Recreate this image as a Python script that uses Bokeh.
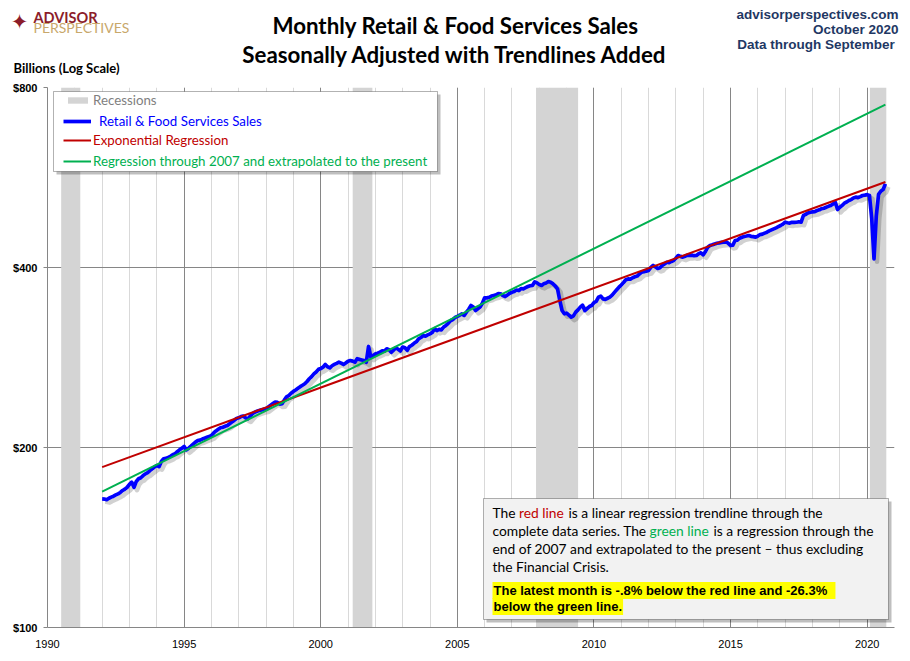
import numpy as np
import pandas as pd
from bokeh.plotting import figure
from bokeh.layouts import column, row
from bokeh.models import (ColumnDataSource, FixedTicker, NumeralTickFormatter, Label,
                          BoxAnnotation, Legend, LegendItem, Range1d)
from bokeh.embed import file_html
from bokeh.resources import INLINE

# ---------------- data (billions of dollars, monthly) ----------------
first_month = "1992-01-01"
sales = [
    164.1, 164.0, 163.6, 164.5, 165.2, 165.8, 166.6, 167.3, 168.2, 169.5, 170.4, 171.6,  # 1992
    173.5, 175.0, 171.6, 175.5, 177.3, 178.0, 179.5, 180.7, 181.5, 183.0, 184.2, 185.5,  # 1993
    186.6, 185.8, 189.5, 191.5, 191.8, 192.5, 193.3, 194.5, 195.2, 196.8, 198.2, 199.5,  # 1994
    200.8, 198.2, 199.5, 201.0, 202.6, 204.2, 205.4, 205.8, 206.6, 207.3, 208.0, 208.6,  # 1995
    209.5, 211.5, 213.2, 214.5, 215.8, 216.2, 217.0, 217.7, 219.2, 220.6, 222.0, 223.6,  # 1996
    224.2, 225.3, 225.8, 224.2, 223.3, 225.5, 227.8, 229.1, 229.9, 230.6, 231.2, 231.8,  # 1997
    232.2, 233.8, 235.4, 236.8, 238.2, 237.9, 236.4, 236.7, 240.0, 243.0, 244.3, 246.5,  # 1998
    248.2, 249.6, 251.2, 252.8, 254.2, 255.6, 257.9, 260.6, 262.8, 265.6, 267.5, 270.2,  # 1999
    271.0, 272.5, 275.3, 272.9, 271.8, 274.0, 275.4, 276.5, 277.8, 276.8, 275.3, 276.9,  # 2000
    278.8, 279.6, 278.9, 277.8, 281.5, 280.8, 280.2, 279.6, 277.8, 295.1, 283.2, 285.0,  # 2001
    286.8, 287.5, 288.6, 290.3, 289.9, 292.4, 291.5, 288.6, 291.0, 293.6, 292.0, 290.1,  # 2002
    294.5, 293.6, 290.8, 295.0, 296.5, 298.7, 300.5, 304.0, 305.5, 307.8, 307.0, 308.5,  # 2003
    309.8, 311.5, 315.9, 313.8, 315.2, 314.6, 318.0, 320.0, 322.6, 325.8, 327.2, 330.0,  # 2004
    331.3, 332.8, 334.5, 332.6, 336.8, 340.5, 345.5, 343.5, 339.0, 341.2, 343.5, 348.5,  # 2005
    356.0, 355.8, 356.6, 358.4, 359.2, 360.0, 361.8, 361.5, 359.0, 357.7, 359.8, 362.2,  # 2006
    363.7, 364.6, 366.8, 366.0, 368.9, 368.5, 370.2, 371.8, 372.9, 373.3, 378.5, 377.0,  # 2007
    374.5, 373.3, 375.6, 376.8, 379.0, 378.0, 375.6, 372.5, 368.5, 352.3, 339.0, 334.7,  # 2008
    335.5, 333.0, 330.3, 332.0, 336.8, 339.8, 343.4, 346.0, 339.0, 341.5, 344.2, 345.5,  # 2009
    349.5, 351.0, 356.8, 358.2, 354.4, 353.8, 355.3, 356.8, 359.6, 363.5, 367.2, 370.8,  # 2010
    374.0, 377.5, 381.5, 382.8, 382.5, 384.5, 386.0, 387.0, 390.2, 392.9, 393.5, 394.5,  # 2011
    395.4, 400.2, 403.1, 401.0, 398.5, 399.5, 403.1, 405.5, 408.2, 407.6, 409.5, 410.9,  # 2012
    414.5, 418.9, 417.5, 416.3, 417.8, 419.2, 418.9, 419.5, 418.6, 418.9, 421.8, 423.3,  # 2013
    420.0, 425.5, 432.5, 435.4, 436.5, 438.0, 439.2, 439.8, 440.6, 441.0, 441.6, 439.0,  # 2014
    435.4, 436.0, 443.8, 444.5, 447.8, 449.5, 450.8, 451.5, 452.4, 451.0, 450.5, 449.5,  # 2015
    451.5, 454.1, 454.8, 456.6, 458.2, 460.5, 462.4, 464.2, 466.0, 468.1, 470.2, 472.6,  # 2016
    476.2, 475.3, 474.6, 476.0, 475.8, 476.2, 477.0, 476.2, 488.7, 490.8, 493.6, 494.9,  # 2017
    495.5, 496.0, 498.2, 499.5, 501.8, 502.6, 504.5, 506.2, 507.7, 511.0, 514.3, 500.0,  # 2018
    504.5, 507.7, 512.5, 514.8, 517.7, 519.5, 522.8, 524.5, 523.6, 525.5, 527.8, 528.5,  # 2019
    529.5, 527.8, 483.0, 413.6, 487.5, 530.0, 536.5, 540.0, 552.0,                      # 2020
]

# trendline values at the first and last month
red_trend = [185.4, 556.0]     # exponential regression, complete series
green_trend = [168.8, 749.0]   # regression through 2007, extrapolated

recession_start = [1990.50, 2001.17, 2007.88, 2020.10]
recession_end = [1991.20, 2001.89, 2009.42, 2020.70]

year_ticks = [1990, 1995, 2000, 2005, 2010, 2015, 2020]
year_minor_ticks = list(range(1990, 2022))
value_ticks = [100, 200, 400, 800]

# ---------------- sources ----------------
months = pd.date_range(first_month, periods=len(sales), freq="MS")
dates = np.array(months.year + (months.month - 1) / 12.0)
sales_src = ColumnDataSource(dict(x=dates, y=sales))
trend_x = [dates[0], dates[-1]]
red_src = ColumnDataSource(dict(x=trend_x, y=red_trend))
green_src = ColumnDataSource(dict(x=trend_x, y=green_trend))
rec_src = ColumnDataSource(dict(left=recession_start, right=recession_end))

PX_PER_YEAR = 27.32
PX_PER_DOUBLING = 180.0
shadow_src = ColumnDataSource(dict(x=dates + 3 / PX_PER_YEAR,
                                   y=np.array(sales) * 2 ** (-3 / PX_PER_DOUBLING)))

HEADER_H = 79
BODY = "Lato"

# ---------------- header (logo, titles, source) ----------------
hdr = figure(width=910, height=HEADER_H, x_range=Range1d(0, 910), y_range=Range1d(HEADER_H, 0),
             output_backend="svg", toolbar_location=None, x_axis_location=None,
             y_axis_location=None, min_border=0)
hdr.outline_line_color = None
hdr.grid.visible = False
hdr.background_fill_color = "white"
hdr.border_fill_color = "white"

def hlabel(text, px, py, color="#000000", size="13px", font=BODY, style="normal", align="left"):
    hdr.add_layout(Label(x=px, y=py, text=text, text_color=color, text_font_size=size,
                         text_font=font, text_font_style=style, text_align=align,
                         text_baseline="middle"))

hlabel("Monthly Retail & Food Services Sales", 455, 25, size="22.3px", style="bold",
       align="center")
hlabel("Seasonally Adjusted with Trendlines Added", 455, 54, size="22.3px", style="bold",
       align="center")
hlabel("Billions (Log Scale)", 13, 67, size="13px", style="bold")
NAVY = "#1F3864"
hlabel("advisorperspectives.com", 898, 14, color=NAVY, size="13.5px", font="Liberation Sans",
       style="bold", align="right")
hlabel("October 2020", 898, 29, color=NAVY, size="13.5px", font="Liberation Sans",
       style="bold", align="right")
hlabel("Data through  September", 898, 44, color=NAVY, size="13.5px", font="Liberation Sans",
       style="bold", align="right")
hlabel("\u2726", 19, 21, color="#8C1D2A", size="21px", font="DejaVu Sans", align="center")
hlabel("ADVISOR", 33, 17, color="#8C1D2A", size="14.5px", style="bold")
hlabel("PERSPECTIVES", 33, 27, color="#C8A86B", size="14px")

# ---------------- main chart ----------------
FL, FB = 47, 627   # page x of frame left, page y of frame bottom
def sx(px):
    return px - FL
def sy(py):
    return FB - py

p = figure(width=910, height=661 - HEADER_H, x_range=Range1d(1990, 2021),
           y_range=Range1d(100, 800), y_axis_type="log", output_backend="svg",
           toolbar_location=None, min_border_left=47, min_border_right=16,
           min_border_top=8, min_border_bottom=34)
p.outline_line_color = None
p.background_fill_color = "white"
p.border_fill_color = "white"

GRID = "#868686"
xt = FixedTicker(ticks=year_ticks, minor_ticks=year_minor_ticks)
p.xaxis.ticker = xt
p.xgrid.ticker = xt
p.xaxis.axis_line_color = GRID
p.xaxis.major_tick_out = 0
p.xaxis.major_tick_in = 0
p.xaxis.minor_tick_out = 0
p.xaxis.minor_tick_in = 0
p.xaxis.major_label_standoff = 12
p.xaxis.major_label_text_font = "Liberation Sans"
p.xaxis.major_label_text_font_size = "11px"
p.xaxis.major_label_text_color = "#000000"

yt = FixedTicker(ticks=value_ticks, minor_ticks=[])
p.yaxis.ticker = yt
p.ygrid.ticker = yt
p.yaxis.formatter = NumeralTickFormatter(format="$0")
p.yaxis.axis_line_color = GRID
p.yaxis.major_tick_line_color = GRID
p.yaxis.major_tick_out = 4
p.yaxis.major_tick_in = 0
p.yaxis.minor_tick_out = 0
p.yaxis.minor_tick_in = 0
p.yaxis.major_label_standoff = 6
p.yaxis.major_label_text_font = "Liberation Sans"
p.yaxis.major_label_text_font_style = "bold"
p.yaxis.major_label_text_font_size = "11px"
p.yaxis.major_label_text_color = "#000000"

p.xgrid.grid_line_color = GRID
p.xgrid.minor_grid_line_color = "#D9D9D9"
p.ygrid.grid_line_color = GRID

rec_r = p.quad(left="left", right="right", bottom=100, top=800, source=rec_src,
               fill_color="#D4D4D4", line_color=None)
p.line("x", "y", source=shadow_src, line_color="#000000", line_alpha=0.18, line_width=4.5,
       line_join="round")
blue_r = p.line("x", "y", source=sales_src, line_color="#0000FF", line_width=3.7, line_join="round")
red_r = p.line("x", "y", source=red_src, line_color="#C00000", line_width=2)
green_r = p.line("x", "y", source=green_src, line_color="#00B050", line_width=2)

def box(l, t, r, b, fill, line):
    p.add_layout(BoxAnnotation(left=sx(l) + 3, right=sx(r) + 3, top=sy(t) - 3, bottom=sy(b) - 3,
                               left_units="screen", right_units="screen", top_units="screen",
                               bottom_units="screen", fill_color="#000000", fill_alpha=0.25,
                               line_color=None))
    p.add_layout(BoxAnnotation(left=sx(l), right=sx(r), top=sy(t), bottom=sy(b),
                               left_units="screen", right_units="screen", top_units="screen",
                               bottom_units="screen", fill_color=fill, fill_alpha=1.0,
                               line_color=line, line_width=1))

def label(text, px, py, color="#000000", size="13.8px", font=BODY, style="normal",
          align="left", bg=None):
    kw = {}
    if bg is not None:
        kw = dict(background_fill_color=bg, padding=1)
    p.add_layout(Label(x=sx(px), y=sy(py), x_units="screen", y_units="screen", text=text,
                       text_color=color, text_font_size=size, text_font=font,
                       text_font_style=style, text_align=align, text_baseline="middle", **kw))

# legend box
box(53, 91, 437, 171, "#FFFFFF", "#000000")

def legend_row(text, renderer, color, gx, gw, cy, h, standoff):
    lg = Legend(items=[LegendItem(label=text, renderers=[renderer])],
                location=(sx(gx), sy(cy) - h / 2), orientation="vertical",
                glyph_width=gw, glyph_height=h, label_height=h, label_standoff=standoff,
                padding=0, margin=0, spacing=0, border_line_color=None,
                background_fill_alpha=0.0, label_text_color=color,
                label_text_font=BODY, label_text_font_size="13.3px")
    p.add_layout(lg, "center")

legend_row("Recessions", rec_r, "#7F7F7F", 65, 25, 104, 8, 3)
legend_row("Retail & Food Services Sales", blue_r, "#0000FF", 63, 28, 124, 10, 8)
legend_row("Exponential Regression", red_r, "#C00000", 63, 28, 143, 10, 2)
legend_row("Regression through 2007 and extrapolated to the present", green_r, "#00B050",
           63, 28, 164, 10, 2)

# annotation box
box(483, 498, 888, 619, "#F2F2F2", "#000000")
label("The", 492, 512)
label("red line", 518.5, 512, color="#C00000")
label("is a  linear regression trendline  through the", 568, 512)
label("complete data series. The", 492, 530)
label("green line", 649, 530, color="#00B050")
label("is a regression through the", 713, 530)
label("end of 2007  and extrapolated to the present  \u2013 thus excluding", 492, 548)
label("the Financial Crisis.", 492, 566)
label("The latest  month is -.8%  below the red line and -26.3%", 492, 590,
      size="13px", font="Liberation Sans", style="bold", bg="#FFFF00")
label("below the green line.", 492, 606, size="13px", font="Liberation Sans", style="bold",
      bg="#FFFF00")

open("out.html", "w").write(file_html(column(row(hdr), p, spacing=0), INLINE))
